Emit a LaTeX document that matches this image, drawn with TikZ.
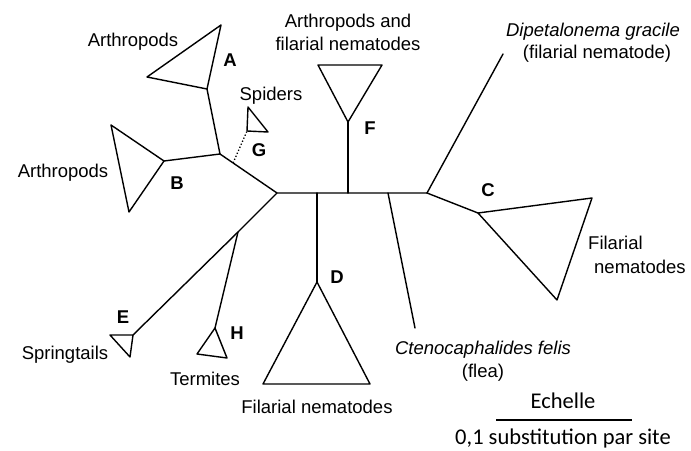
\documentclass[tikz,border=0pt]{standalone}
\usepackage{fontspec}
\setmainfont{Liberation Sans}
\newfontfamily\echellefont{Carlito}
\usetikzlibrary{positioning, calc}
\tikzset{
  br/.style={line width=1.4pt, line join=round, line cap=round},
  tri/.style={br},
  dots/.style={line width=1.3pt, dotted},
  lbl/.style={font=\fontsize{18.5}{23}\selectfont, align=center, inner sep=0pt},
  lbli/.style={lbl, font=\fontsize{18.5}{21}\selectfont\itshape},
  grp/.style={font=\fontsize{18.5}{22}\selectfont\bfseries, inner sep=0pt},
  scl/.style={font=\echellefont\fontsize{22.5}{26}\selectfont, inner sep=0pt, anchor=base},
}

\begin{document}
\begin{tikzpicture}[x=1pt, y=-1pt]
  \useasboundingbox (0,0) rectangle (691,450);
  % inner nodes of the tree
  \coordinate (root) at (277,193);
  \coordinate (jab) at (220,154);
  \coordinate (jeh) at (238,232);
  \coordinate (jd) at (317,193);
  \coordinate (jf) at (348,193);
  \coordinate (jflea) at (388,193);
  \coordinate (jc) at (427,193);
  \coordinate (gbase) at ($(jab)!0.23!(root)$);
  % clade tips
  \coordinate (a1) at (207,89);  \coordinate (a2) at (221,25);  \coordinate (a3) at (147,77);
  \coordinate (b1) at (164,161); \coordinate (b2) at (111,125); \coordinate (b3) at (129,212);
  \coordinate (g1) at (247,131); \coordinate (g2) at (248,107); \coordinate (g3) at (268,132);
  \coordinate (f1) at (348,122); \coordinate (f2) at (318,65);  \coordinate (f3) at (382,65);
  \coordinate (d1) at (317,282); \coordinate (d2) at (263,384); \coordinate (d3) at (370,384);
  \coordinate (c1) at (478,213); \coordinate (c2) at (592,198); \coordinate (c3) at (557,300);
  \coordinate (e1) at (133,335); \coordinate (e2) at (110,335); \coordinate (e3) at (130,357);
  \coordinate (h1) at (215,328); \coordinate (h2) at (197,354); \coordinate (h3) at (227,358);
  \coordinate (flea) at (415,328);
  \coordinate (dip) at (503,54);

  % branches
  \draw[br] (jab) -- (root) -- (jd) -- (jf) -- (jflea) -- (jc);
  \draw[br] (jab) -- (a1); \draw[br] (jab) -- (b1);
  \draw[br] (root) -- (jeh); \draw[br] (jeh) -- (e1); \draw[br] (jeh) -- (h1);
  \draw[br] (jd) -- (d1); \draw[br] (jf) -- (f1);
  \draw[br] (jflea) -- (flea);
  \draw[br] (jc) -- (dip); \draw[br] (jc) -- (c1);
  \draw[dots] (gbase) -- (g1);

  % collapsed clades
  \foreach \t in {a,b,c,d,e,f,g,h}
    \draw[tri] (\t1) -- (\t2) -- (\t3) -- cycle;

  % clade letters
  \node[grp] (la) at (230,60) {A};
  \node[grp] (lb) at (177,183) {B};
  \node[grp] (lc) at (488,190) {C};
  \node[grp] (ld) at (337,277) {D};
  \node[grp] (le) at (123,317) {E};
  \node[grp] (lf) at (370,128) {F};
  \node[grp] (lg) at (259,150) {G};
  \node[grp] (lh) at (237,333) {H};

  % taxa
  \node[lbl] (arth1) at (133,42) {Arthropods};
  \node[lbl] (arth2) at (63,173) {Arthropods};
  \node[lbl] (spid) at (271,96) {Spiders};
  \node[lbl] (arthfil) at (348,32) {Arthropods and\\filarial nematodes};
  \node[lbli] (dipg) at (593,32) {Dipetalonema gracile};
  \node[lbl, below=4pt of dipg.south, xshift=4pt] (dipn) {(filarial nematode)};
  \node[lbl, anchor=west] (filc1) at (588,243) {Filarial};
  \node[lbl, anchor=west] (filc2) at (594,267) {nematodes};
  \node[lbl] (spring) at (65,355) {Springtails};
  \node[lbl] (term) at (205,379) {Termites};
  \node[lbl] (fild) at (317,407) {Filarial nematodes};
  \node[lbli] (cten) at (483,350) {Ctenocaphalides felis};
  \node[lbl] (fleal) at (483,373) {(flea)};

  % scale
  \node[scl] (ech) at (563,408) {Echelle};
  \coordinate (sl) at (496,420);
  \coordinate (sr) at (632,420);
  \draw[line width=1.3pt] (sl) -- (sr);
  \node[scl] (subst) at (563,444) {0,1 substitution par site};
\end{tikzpicture}
\end{document}
